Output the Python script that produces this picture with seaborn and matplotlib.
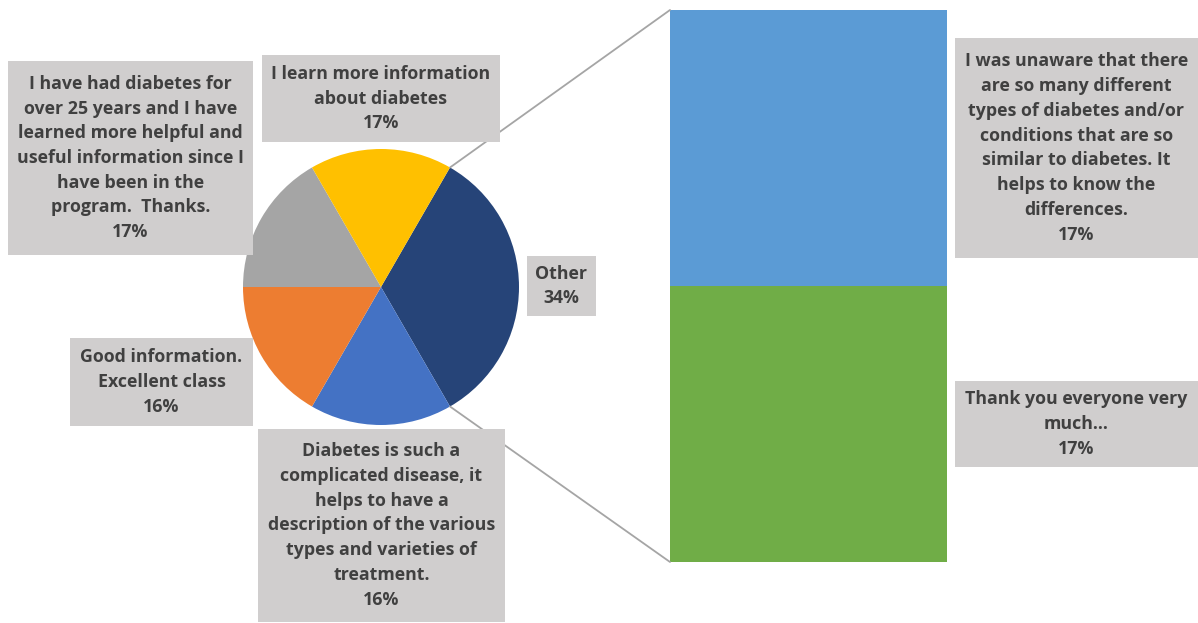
import matplotlib.pyplot as plt
import numpy as np
import seaborn as sns
from matplotlib.patches import Rectangle, ConnectionPatch

# pie part (last slice "Other" is split out into the bar)
pie_labels = ['Other',
              'Diabetes is such a\ncomplicated disease, it\nhelps to have a\ndescription of the various\ntypes and varieties of\ntreatment.',
              'Good information.\nExcellent class',
              'I have had diabetes for\nover 25 years and I have\nlearned more helpful and\nuseful information since I\nhave been in the\nprogram.  Thanks.',
              'I learn more information\nabout diabetes']
pie_values = [2, 1, 1, 1, 1]
pie_pct = ['34%', '16%', '16%', '17%', '17%']
pie_colors = ['#264478', '#4472C4', '#ED7D31', '#A5A5A5', '#FFC000']

# bar part
bar_labels = ['Thank you everyone very\nmuch...',
              'I was unaware that there\nare so many different\ntypes of diabetes and/or\nconditions that are so\nsimilar to diabetes. It\nhelps to know the\ndifferences.']
bar_values = [1, 1]
bar_pct = ['17%', '17%']
bar_colors = ['#70AD47', '#5B9BD5']

sns.set_theme(style='white')
plt.rcParams['font.family'] = ['Open Sans', 'DejaVu Sans']

W, H = 1198, 623
fig = plt.figure(figsize=(W / 100, H / 100), dpi=100)


def frac(x0, y0, x1, y1):
    # pixel box (top-left origin) -> figure fraction rect
    return [x0 / W, 1 - y1 / H, (x1 - x0) / W, (y1 - y0) / H]


ax_pie = fig.add_axes(frac(243, 149, 519, 425))
ax_pie.pie(pie_values, colors=pie_colors, startangle=60, counterclock=False,
           radius=1, wedgeprops=dict(linewidth=0))
ax_pie.set_xlim(-1, 1)
ax_pie.set_ylim(-1, 1)
ax_pie.set_aspect('equal')
ax_pie.axis('off')

ax_bar = fig.add_axes(frac(670, 10, 947, 562))
bottom = 0
for v, c in zip(bar_values, bar_colors):
    ax_bar.bar(0, v, bottom=bottom, width=1, color=c, linewidth=0)
    bottom += v
ax_bar.set_xlim(-0.5, 0.5)
ax_bar.set_ylim(0, sum(bar_values))
ax_bar.axis('off')

# connector lines from the "Other" slice edges to the bar corners
a_top = np.deg2rad(60)
a_bot = np.deg2rad(60 - 360 * pie_values[0] / sum(pie_values))
for (px, py), by in [((np.cos(a_top), np.sin(a_top)), sum(bar_values)),
                     ((np.cos(a_bot), np.sin(a_bot)), 0)]:
    con = ConnectionPatch(xyA=(px, py), coordsA=ax_pie.transData,
                          xyB=(-0.5, by), coordsB=ax_bar.transData,
                          color='#A5A5A5', linewidth=1.3)
    fig.add_artist(con)

# label boxes (pixel extents)
pie_boxes = [(527, 256, 596, 316), (258, 429, 505, 622), (70, 338, 253, 426),
             (8, 61, 253, 255), (262, 55, 500, 142)]
bar_boxes = [(955, 381, 1198, 467), (955, 38, 1198, 258)]

for lab, pct, (x0, y0, x1, y1) in zip(pie_labels + bar_labels, pie_pct + bar_pct,
                                      pie_boxes + bar_boxes):
    fig.add_artist(Rectangle((x0 / W, 1 - y1 / H), (x1 - x0) / W, (y1 - y0) / H,
                             transform=fig.transFigure, facecolor='#D0CECE',
                             edgecolor='none'))
    fig.text((x0 + x1) / 2 / W, 1 - (y0 + y1) / 2 / H, lab + '\n' + pct,
             ha='center', va='center', ma='center', fontsize=12.8,
             fontweight='bold', color='#404040', linespacing=1.48)

fig.savefig('out.png', dpi=100)
